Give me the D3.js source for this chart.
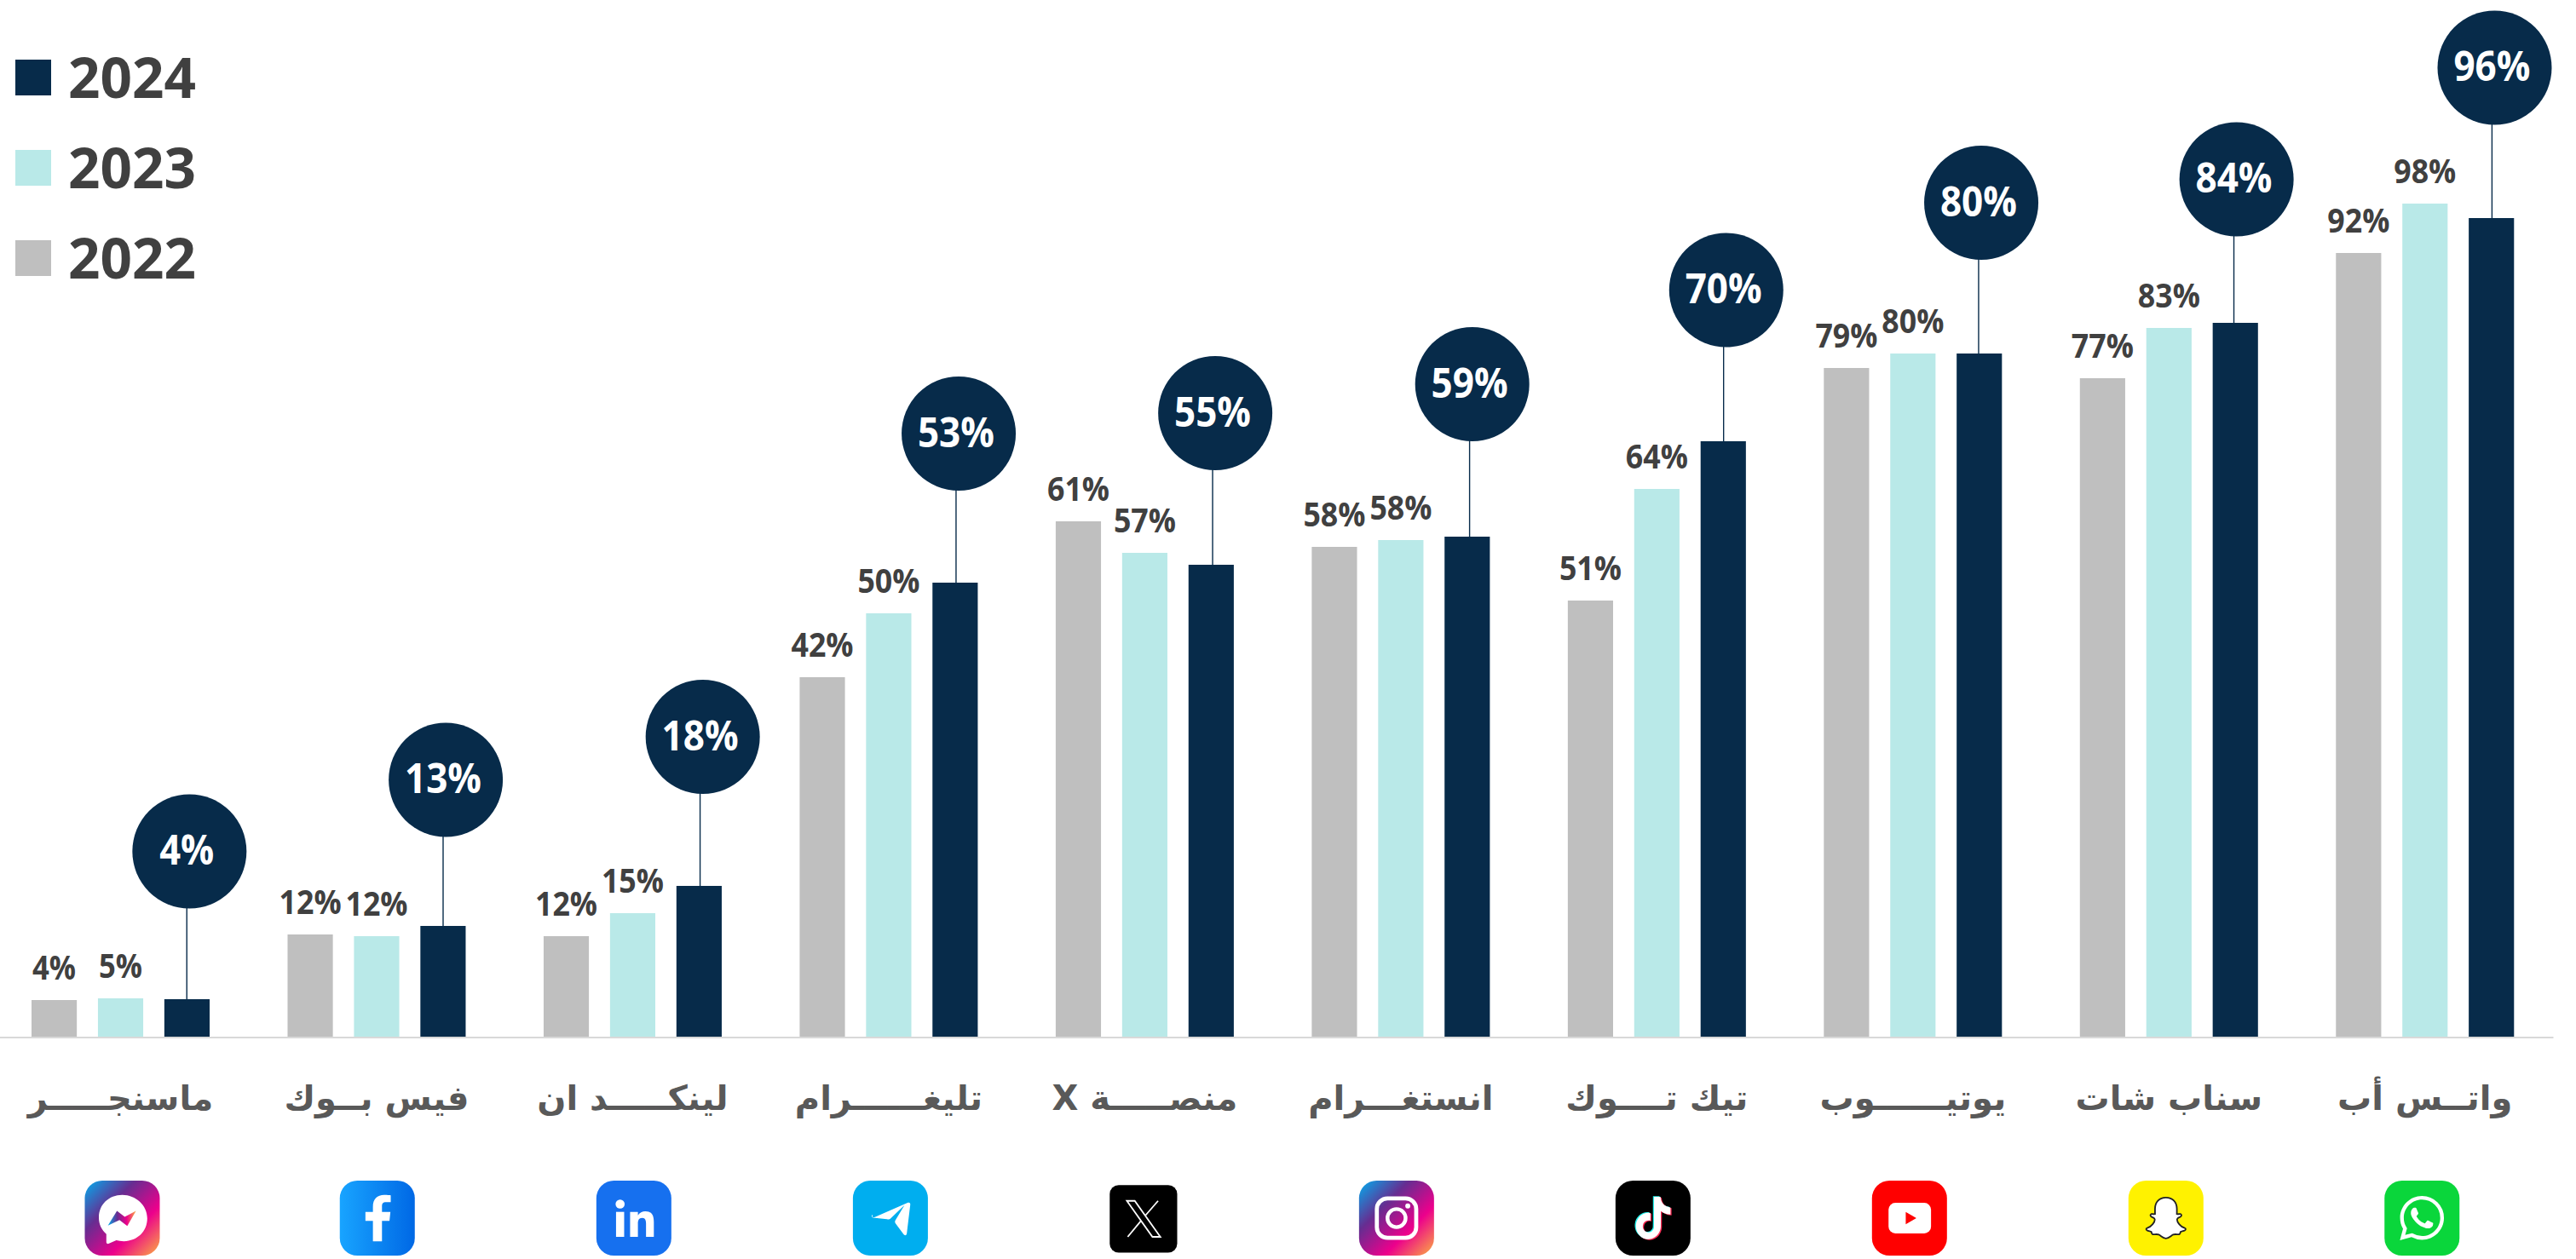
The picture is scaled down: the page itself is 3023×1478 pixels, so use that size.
<!DOCTYPE html>
<html lang="ar">
<head>
<meta charset="utf-8">
<title>Chart</title>
<script src="https://cdn.jsdelivr.net/npm/d3@7"></script>
<style>
  html, body { margin: 0; padding: 0; background: #fff; overflow: hidden; }
  svg { display: block; }
  text { font-family: "Open Sans", sans-serif; font-weight: 700; }
  .axis text { font-family: "DejaVu Sans", sans-serif; }
</style>
</head>
<body>
<div id="chart"></div>
<script>
const categories = ["ماسنجـــــر", "فيس بــوك", "لينكـــــد ان", "تليغــــــرام", "منصـــــة X", "انستغـــرام", "تيك تــــوك", "يوتيــــــوب", "سناب شات", "واتــس أب"];
const iconNames = ["messenger", "facebook", "linkedin", "telegram", "x", "instagram", "tiktok", "youtube", "snapchat", "whatsapp"];
const years = ["2022", "2023", "2024"];
const values2022 = [4.3, 12.0, 11.8, 42.2, 60.5, 57.5, 51.2, 78.5, 77.3, 92.0];
const values2023 = [4.5, 11.8, 14.5, 49.7, 56.8, 58.3, 64.3, 80.2, 83.2, 97.8];
const values2024 = [4.4, 13.0, 17.7, 53.3, 55.4, 58.7, 69.9, 80.2, 83.8, 96.1];
// printed labels, these are rounded in the source and don't always follow the bar height
const labels2022 = ["4%", "12%", "12%", "42%", "61%", "58%", "51%", "79%", "77%", "92%"];
const labels2023 = ["5%", "12%", "15%", "50%", "57%", "58%", "64%", "80%", "83%", "98%"];
const labels2024 = ["4%", "13%", "18%", "53%", "55%", "59%", "70%", "80%", "84%", "96%"];
// level (same unit as the values) where each 2024 bubble sits
const bubbleLevels = [21.75, 30.15, 35.2, 70.8, 73.2, 76.6, 87.65, 97.9, 100.65, 113.75];

const width = 3023, height = 1478;
const navy = "#072b4a", teal = "#b9e9e8", grey = "#bfbfbf";
const color = d3.scaleOrdinal(years, [grey, teal, navy]);

const svg = d3.select("#chart").append("svg")
    .attr("width", width)
    .attr("height", height);

const x = d3.scaleBand()
    .domain(categories)
    .range([-8.75, 2996]);

const xYear = d3.scaleBand()
    .domain(years)
    .range([45.75, 254.75])
    .paddingInner(0.318);

const y = d3.scaleLinear()
    .domain([0, 100])
    .range([1217, 217]);

// gradients for the icon tiles
const defs = svg.append("defs");
function gradient(id, stops, x2, y2) {
  const g = defs.append("linearGradient").attr("id", id)
      .attr("x1", 0).attr("y1", 0).attr("x2", x2).attr("y2", y2);
  stops.forEach((c, i) => g.append("stop").attr("offset", i / (stops.length - 1)).attr("stop-color", c));
}
gradient("gradInsta", ["#00aeef", "#662d91", "#ec008c", "#fbb040"], 1, 1);
gradient("gradFb", ["#18a4ff", "#0068e5"], 1, 0);
gradient("gradBolt", ["#00aeef", "#662d91", "#ec008c", "#fbb040"], 1, 0);

// axis with the arabic names
const axis = svg.append("g")
    .attr("class", "axis")
    .attr("transform", `translate(0,${y(0) + 0.5})`)
    .call(d3.axisBottom(x).tickSize(0).tickPadding(57));
axis.select(".domain").attr("stroke", "#d9d9d9").attr("stroke-width", 2);
axis.selectAll("text")
    .attr("direction", "rtl")
    .attr("unicode-bidi", "plaintext")
    .attr("fill", "#595959")
    .style("font-size", "40px");

// bars
const seriesValues = [values2022, values2023, values2024];
const seriesLabels = [labels2022, labels2023, labels2024];
years.forEach((year, s) => {
  const rows = categories.map((c, i) => ({c, v: seriesValues[s][i], label: seriesLabels[s][i]}));
  svg.append("g").selectAll("rect")
    .data(rows)
    .join("rect")
      .attr("x", d => x(d.c) + xYear(year))
      .attr("y", d => y(d.v))
      .attr("width", xYear.bandwidth())
      .attr("height", d => y(0) - y(d.v))
      .attr("fill", color(year));

  if (year !== "2024") {
    svg.append("g").selectAll("text")
      .data(rows)
      .join("text")
        .attr("x", d => x(d.c) + xYear(year) + xYear.bandwidth() / 2)
        .attr("y", d => y(d.v) - 24)
        .attr("text-anchor", "middle")
        .attr("fill", "#404040")
        .attr("textLength", d => d.label.length === 2 ? 51 : 73)
        .attr("lengthAdjust", "spacingAndGlyphs")
        .style("font-size", "39px")
        .text(d => d.label);
  }
});

// 2024 bubbles, the source placed these by hand so the stem drifts a little off the bar centre
const bubbleShift = [-0.2, 0.1, 1.2, 1.1, 1.7, 2.8, 0.4, -0.8, -1.7, 0.7];
const bubbles = svg.append("g").selectAll("g")
  .data(categories.map((c, i) => ({c, i, v: values2024[i], level: bubbleLevels[i], label: labels2024[i]})))
  .join("g")
    .attr("transform", d => `translate(${x(d.c) + xYear("2024") + xYear.bandwidth() / 2 + bubbleShift[d.i]},0)`);
bubbles.append("line")
    .attr("y1", d => y(d.level))
    .attr("y2", d => y(d.v))
    .attr("stroke", navy)
    .attr("stroke-width", 1.4);
bubbles.append("circle")
    .attr("cx", 3.1)
    .attr("cy", d => y(d.level))
    .attr("r", 67)
    .attr("fill", navy);
bubbles.append("text")
    .attr("y", d => y(d.level) + 15.5)
    .attr("text-anchor", "middle")
    .attr("fill", "#fff")
    .attr("textLength", d => d.label.length === 2 ? 64 : 90)
    .attr("lengthAdjust", "spacingAndGlyphs")
    .style("font-size", "49px")
    .text(d => d.label);

// legend
const legend = svg.append("g").selectAll("g")
  .data(years.slice().reverse())
  .join("g")
    .attr("transform", (d, i) => `translate(18,${70 + i * 106})`);
legend.append("rect")
    .attr("width", 42)
    .attr("height", 42)
    .attr("fill", d => color(d));
legend.append("text")
    .attr("x", 62)
    .attr("y", 45)
    .attr("fill", "#404040")
    .attr("textLength", 150)
    .attr("lengthAdjust", "spacingAndGlyphs")
    .style("font-size", "67px")
    .text(d => d);

// icons are drawn in a 24x24 box
const whatsappPath = "M17.472 14.382c-.297-.149-1.758-.867-2.03-.967-.273-.099-.471-.148-.67.15-.197.297-.767.966-.94 1.164-.173.199-.347.223-.644.075-.297-.15-1.255-.463-2.39-1.475-.883-.788-1.48-1.761-1.653-2.059-.173-.297-.018-.458.13-.606.134-.133.298-.347.446-.52.149-.174.198-.298.298-.497.099-.198.05-.371-.025-.52-.075-.149-.669-1.612-.916-2.207-.242-.579-.487-.5-.669-.51-.173-.008-.371-.01-.57-.01-.198 0-.52.074-.792.372-.272.297-1.04 1.016-1.04 2.479 0 1.462 1.065 2.875 1.213 3.074.149.198 2.096 3.2 5.077 4.487.709.306 1.262.489 1.694.625.712.227 1.36.195 1.871.118.571-.085 1.758-.719 2.006-1.413.248-.694.248-1.289.173-1.413-.074-.124-.272-.198-.57-.347m-5.421 7.403h-.004a9.87 9.87 0 01-5.031-1.378l-.361-.214-3.741.982.998-3.648-.235-.374a9.86 9.86 0 01-1.51-5.26c.001-5.45 4.436-9.884 9.888-9.884 2.64 0 5.122 1.03 6.988 2.898a9.825 9.825 0 012.893 6.994c-.003 5.45-4.437 9.884-9.885 9.884m8.413-18.297A11.815 11.815 0 0012.05 0C5.495 0 .16 5.335.157 11.892c0 2.096.547 4.142 1.588 5.945L.057 24l6.305-1.654a11.882 11.882 0 005.683 1.448h.005c6.554 0 11.89-5.335 11.893-11.893a11.821 11.821 0 00-3.48-8.413Z";
const tiktokPath = "M12.525.02c1.31-.02 2.61-.01 3.91-.02.08 1.53.63 3.09 1.75 4.17 1.12 1.11 2.7 1.62 4.24 1.79v4.03c-1.44-.05-2.89-.35-4.2-.97-.57-.26-1.1-.59-1.62-.93-.01 2.92.01 5.84-.02 8.75-.08 1.4-.54 2.79-1.35 3.94-1.31 1.92-3.58 3.17-5.91 3.21-1.43.08-2.86-.31-4.08-1.03-2.02-1.19-3.44-3.37-3.65-5.71-.02-.5-.03-1-.01-1.49.18-1.9 1.12-3.72 2.58-4.96 1.66-1.44 3.98-2.13 6.15-1.72.02 1.48-.04 2.96-.04 4.44-.99-.32-2.15-.23-3.02.37-.63.41-1.11 1.04-1.36 1.75-.21.51-.15 1.07-.14 1.61.24 1.64 1.82 3.02 3.5 2.87 1.12-.01 2.19-.66 2.77-1.61.19-.33.4-.67.41-1.06.1-1.79.06-3.57.07-5.36.01-4.03-.01-8.05.02-12.07z";

const iconDraw = {
  messenger(g) {
    tile(g, "url(#gradInsta)");
    g.append("path").attr("fill", "#fff")
      .attr("d", "M12 4.6c-4.3 0-7.5 3.1-7.5 7.2 0 2.2.9 4 2.4 5.3v2.6c0 .4.4.6.7.5l2.5-1.1c.7.2 1.5.3 2.4.3 4.3 0 7.5-3.1 7.5-7.3S16.3 4.6 12 4.6z");
    g.append("path").attr("fill", "url(#gradBolt)")
      .attr("d", "M7.4 14.4 10.3 9.7l2.5 1.9 3.6-1.9-2.8 4.8-2.5-1.9z");
  },
  facebook(g) {
    tile(g, "url(#gradFb)");
    g.append("path").attr("fill", "#fff")
      .attr("d", "M13.5 19.4v-6.5h2.4l.3-2.9h-2.7V8.3c0-.9.2-1.4 1.4-1.4h1.4V4.7c-.3 0-1.1-.1-2.1-.1-2.2 0-3.6 1.3-3.6 3.7V10H8.2v2.9h2.4v6.5z");
  },
  linkedin(g) {
    tile(g, "#1670ef");
    g.append("circle").attr("cx", 7.6).attr("cy", 7.5).attr("r", 1.45).attr("fill", "#fff");
    g.append("rect").attr("x", 6.3).attr("y", 10).attr("width", 2.6).attr("height", 8).attr("fill", "#fff");
    g.append("path").attr("fill", "#fff")
      .attr("d", "M10.8 10h2.5v1.1c.5-.8 1.4-1.3 2.4-1.3 2.1 0 2.7 1.4 2.7 3.4V18h-2.5v-4.2c0-1-.2-1.9-1.2-1.9-1.2 0-1.4.9-1.4 1.9V18h-2.5z");
  },
  telegram(g) {
    tile(g, "#00aeef");
    g.append("path").attr("fill", "#fff")
      .attr("transform", "translate(2.44,2.4) scale(0.8)")
      .attr("d", "M4.8 12 19 5.8c.6-.2 1 .2.9.8l-1.4 11.6c-.1.7-.8.9-1.2.4l-3.3-4.5c-.3-.4-.3-.9 0-1.3l3.6-6-5.6 5.4c-.4.4-.9.4-1.4.2l-5.6-.6c-.6-.2-.7-.9-.2-1.2z");
  },
  x(g) {
    g.attr("transform", `${g.attr("transform")} scale(0.9) translate(1.33,1.6)`);
    g.append("rect").attr("width", 24).attr("height", 24).attr("rx", 3.2).attr("fill", "#000");
    g.append("path").attr("fill", "none").attr("stroke", "#fff").attr("stroke-width", 0.55)
      .attr("d", "M6.1 5.6h2.8l9.1 12.8h-2.8z M17.2 5.6 12.6 10.9 M11.2 12.6 6.4 18.4");
  },
  instagram(g) {
    tile(g, "url(#gradInsta)");
    g.append("rect").attr("x", 5.7).attr("y", 5.7).attr("width", 12.6).attr("height", 12.6).attr("rx", 3.4)
      .attr("fill", "none").attr("stroke", "#fff").attr("stroke-width", 1.3);
    g.append("circle").attr("cx", 12).attr("cy", 12).attr("r", 2.9)
      .attr("fill", "none").attr("stroke", "#fff").attr("stroke-width", 1.2);
    g.append("circle").attr("cx", 15.6).attr("cy", 8.1).attr("r", 0.8).attr("fill", "#fff");
  },
  tiktok(g) {
    tile(g, "#000");
    const note = (fill, dx, dy) => g.append("path").attr("fill", fill)
      .attr("transform", `translate(${5.7 + dx},${5.2 + dy}) scale(0.53,0.565)`)
      .attr("d", tiktokPath);
    note("#25f4ee", -0.35, -0.2);
    note("#fe2c55", 0.35, 0.25);
    note("#fff", 0, 0);
  },
  youtube(g) {
    tile(g, "#ff0000");
    g.append("rect").attr("x", 5.3).attr("y", 7.1).attr("width", 13.6).attr("height", 9.8).attr("rx", 2.2).attr("fill", "#fff");
    g.append("path").attr("fill", "#ff0000").attr("d", "M10.8 10 14.2 12 10.8 14z");
  },
  snapchat(g) {
    tile(g, "#fff200");
    g.append("path").attr("fill", "#fff").attr("stroke", "#222").attr("stroke-width", 0.5)
      .attr("d", "M12 5.4c2.2 0 3.5 1.6 3.5 3.6v1.7c.4.1.9-.1 1.2 0 .4.2.3.6 0 .8-.4.3-1 .4-1.1.8-.2.9 1.1 2.5 2.4 2.9.4.1.4.5.1.7-.5.3-1.1.3-1.4.5-.2.3-.1.7-.5.8-.6.1-1.2-.2-1.9.1-.7.3-1.3 1.2-2.3 1.2s-1.6-.9-2.3-1.2c-.7-.3-1.3 0-1.9-.1-.4-.1-.3-.5-.5-.8-.3-.2-.9-.2-1.4-.5-.3-.2-.3-.6.1-.7 1.3-.4 2.6-2 2.4-2.9-.1-.4-.7-.5-1.1-.8-.3-.2-.4-.6 0-.8.3-.1.8.1 1.2 0V9c0-2 1.3-3.6 3.5-3.6z");
  },
  whatsapp(g) {
    tile(g, "#0ad63b");
    g.append("path").attr("fill", "#fff")
      .attr("transform", "translate(4.9,4.9) scale(0.59)")
      .attr("d", whatsappPath);
  }
};

function tile(g, fill) {
  g.append("rect").attr("width", 24).attr("height", 24).attr("rx", 5.6).attr("fill", fill);
}

// the icon row isn't spaced exactly like the bars
const iconShift = [2, 0.8, 1.4, 2, -1.5, -5, -4.5, -4, -3.5, -3.5];
const iconSize = 88, iconTop = 1386;
categories.forEach((c, i) => {
  const cx = x(c) + x.bandwidth() / 2 + iconShift[i];
  const g = svg.append("g")
      .attr("transform", `translate(${cx - iconSize / 2},${iconTop}) scale(${iconSize / 24})`);
  iconDraw[iconNames[i]](g);
});
</script>
</body>
</html>
